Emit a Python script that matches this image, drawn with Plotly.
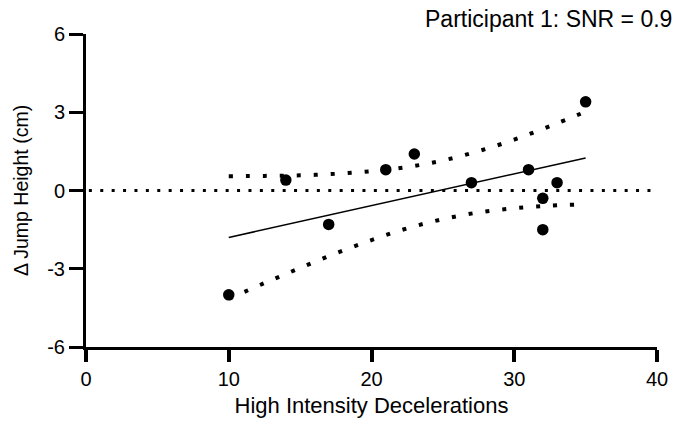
import plotly.graph_objects as go

decel = [10, 14, 17, 21, 23, 27, 31, 32, 32, 33, 35]
jump_delta = [-4.0, 0.4, -1.3, 0.8, 1.4, 0.3, 0.8, -0.3, -1.5, 0.3, 3.4]

# Regression line endpoints
fit_x = [10, 35]
fit_y = [-1.80, 1.25]

# Confidence band
band_x = [10, 12.5, 15, 17.5, 20, 22.5, 25, 27.5, 30, 32.5, 35]
band_upper = [0.55, 0.56, 0.58, 0.64, 0.74, 0.90, 1.15, 1.51, 1.95, 2.47, 3.02]
band_lower = [-4.15, -3.55, -2.97, -2.41, -1.90, -1.45, -1.10, -0.84, -0.68, -0.58, -0.53]

x_ticks = [0, 10, 20, 30, 40]
y_ticks = [-6, -3, 0, 3, 6]
y_tick_text = ["-6", "-3", "0", "3", "6"]

FONT = "Liberation Sans, Arial, sans-serif"

fig = go.Figure()

for band in (band_upper, band_lower):
    fig.add_trace(go.Scatter(
        x=band_x, y=band, mode="lines",
        line=dict(color="black", width=4, dash="4px,13px", shape="spline"),
        hoverinfo="skip", showlegend=False))

fig.add_trace(go.Scatter(
    x=fit_x, y=fit_y, mode="lines",
    line=dict(color="black", width=1.5), showlegend=False))

fig.add_trace(go.Scatter(
    x=decel, y=jump_delta, mode="markers",
    marker=dict(color="black", size=11.5), showlegend=False))

fig.add_shape(type="line", x0=0.2, x1=39.6, y0=0, y1=0, xref="x", yref="y",
              line=dict(color="black", width=3, dash="3px,8.4px"), layer="below")

fig.add_annotation(text="Participant 1: SNR = 0.9", xref="paper", yref="paper",
                   x=1.03, y=1.047, xanchor="right", yanchor="middle",
                   showarrow=False, font=dict(family=FONT, size=23, color="black"))

fig.update_xaxes(range=[0, 40], tickvals=x_ticks, ticks="outside", ticklen=12,
                 tickwidth=3.5, tickcolor="black", showline=True, linecolor="black",
                 linewidth=3, showgrid=False, zeroline=False,
                 tickfont=dict(family=FONT, size=20, color="black"),
                 title=dict(text="High Intensity Decelerations", standoff=9,
                            font=dict(family=FONT, size=22, color="black")))
fig.update_yaxes(range=[-6, 6], tickvals=y_ticks, ticktext=y_tick_text,
                 ticks="outside", ticklen=14,
                 tickwidth=3, tickcolor="black", showline=True, linecolor="black",
                 linewidth=3, showgrid=False, zeroline=False,
                 tickfont=dict(family=FONT, size=20, color="black"),
                 title=dict(text="Δ Jump Height (cm)", standoff=14,
                            font=dict(family=FONT, size=19.5, color="black")))

fig.update_layout(width=689, height=427, plot_bgcolor="white", paper_bgcolor="white",
                  margin=dict(l=86, r=32, t=34, b=80), font=dict(family=FONT))

fig.write_html("out.html")
